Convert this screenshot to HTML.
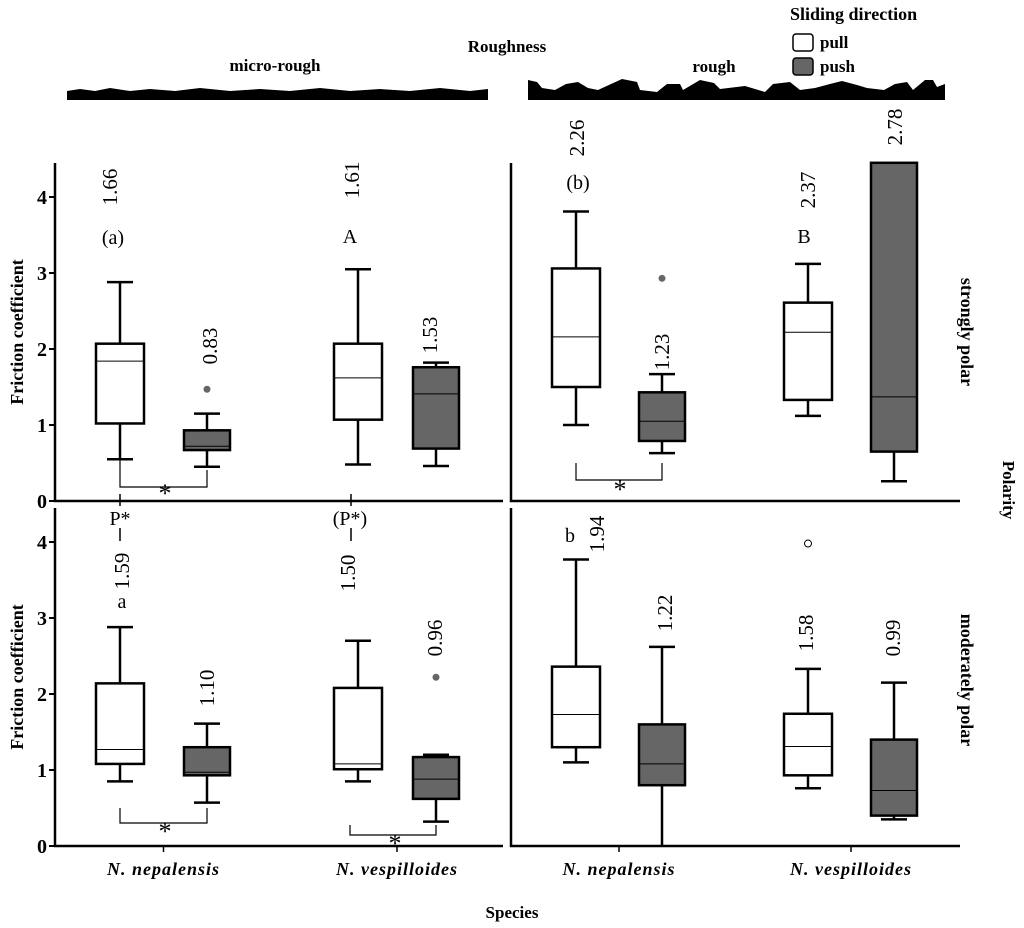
<!DOCTYPE html>
<html><head><meta charset="utf-8"><style>
body{margin:0;background:#fff}
svg{display:block;font-family:"Liberation Serif",serif}
</style></head><body>
<svg id="c" width="1024" height="928" xmlns="http://www.w3.org/2000/svg">
<g>
<text x="507" y="52" font-size="17" font-weight="bold" text-anchor="middle">Roughness</text>
<text x="275" y="71" font-size="17" font-weight="bold" text-anchor="middle">micro-rough</text>
<text x="714" y="72" font-size="17" font-weight="bold" text-anchor="middle">rough</text>
<path d="M67 91 L80 89 L95 91 L110 88 L130 91 L150 89 L175 91 L200 88 L230 91 L260 89 L290 91 L320 88 L350 91 L380 89 L410 91 L440 88 L470 91 L488 89 L488 100 L67 100 Z" fill="#000"/>
<path d="M528 100 L528 80 L537 82 L542 88 L555 90 L566 84 L578 82 L588 88 L598 90 L622 79 L637 82 L640 90 L657 92 L667 84 L680 84 L683 90 L700 80 L714 83 L720 89 L745 86 L765 92 L773 84 L790 82 L800 90 L815 88 L830 84 L842 81 L857 85 L867 88 L884 90 L895 84 L907 82 L913 90 L925 80 L933 80 L937 87 L945 84 L945 100 Z" fill="#000"/>
</g>
<g>
<text x="790" y="20" font-size="18" font-weight="bold">Sliding direction</text>
<rect x="793" y="34" width="20" height="17" rx="3" fill="#fff" stroke="#000" stroke-width="1.5"/>
<text x="820" y="48" font-size="17" font-weight="bold">pull</text>
<rect x="793" y="58" width="20" height="17" rx="3" fill="#666" stroke="#000" stroke-width="1.5"/>
<text x="820" y="72" font-size="17" font-weight="bold">push</text>
</g>
<g id="plots"></g>
<text x="512" y="918" font-size="17" font-weight="bold" text-anchor="middle">Species</text>
<text transform="translate(1003,490) rotate(90)" font-size="17" font-weight="bold" text-anchor="middle">Polarity</text>
<text transform="translate(961,332) rotate(90)" font-size="18" font-weight="bold" text-anchor="middle">strongly polar</text>
<text transform="translate(961,680) rotate(90)" font-size="18" font-weight="bold" text-anchor="middle">moderately polar</text>
</svg>
<script>
// each box: [whiskerLow, q1, median, q3, whiskerHigh]
const panels = ["micro-strong","rough-strong","micro-moderate","rough-moderate"];
const species = ["N. nepalensis","N. vespilloides"];
const boxStats = [
 [[0.55,1.02,1.84,2.07,2.88],[0.45,0.67,0.72,0.93,1.15],[0.48,1.07,1.62,2.07,3.05],[0.46,0.69,1.41,1.76,1.82]],
 [[1.00,1.50,2.16,3.06,3.81],[0.63,0.79,1.05,1.43,1.67],[1.12,1.33,2.22,2.61,3.12],[0.26,0.65,1.37,4.45,4.45]],
 [[0.85,1.08,1.27,2.14,2.88],[0.57,0.93,0.97,1.30,1.61],[0.85,1.01,1.08,2.08,2.70],[0.32,0.62,0.88,1.17,1.20]],
 [[1.10,1.30,1.73,2.36,3.77],[0.00,0.80,1.08,1.60,2.62],[0.76,0.93,1.31,1.74,2.33],[0.35,0.40,0.73,1.40,2.15]]
];
const outliers = [[null,1.47,null,null],[null,2.93,null,null],[null,null,null,2.22],[null,null,3.98,null]];
const meanLabels = [["1.66","0.83","1.61","1.53"],["2.26","1.23","2.37","2.78"],["1.59","1.10","1.50","0.96"],["1.94","1.22","1.58","0.99"]];
const yTicks = [0,1,2,3,4];

const NS="http://www.w3.org/2000/svg";
const g=document.getElementById('plots');
function el(t,a,p){const e=document.createElementNS(NS,t);for(const k in a)e.setAttribute(k,a[k]);(p||g).appendChild(e);return e;}
const geo=[
 {x0:55,x1:503,y0:501,top:163,cx:[120,207,358,436],lab:[[110,187],[210,346],[352,180],[430,335]]},
 {x0:511,x1:960,y0:501,top:163,cx:[576,662,808,894],lab:[[577,138],[662,352],[808,190],[895,127]]},
 {x0:55,x1:503,y0:846,top:508,cx:[120,207,358,436],lab:[[122,571],[207,688],[348,573],[435,638]]},
 {x0:511,x1:960,y0:846,top:508,cx:[576,662,808,894],lab:[[597,534],[665,613],[806,633],[893,638]]}
];
const U=76;
panels.forEach((pn,pi)=>{
 const G=geo[pi];
 const y=v=>G.y0-v*U;
 const pg=el('g',{});
 
 
 const ax=el('path',{d:`M${G.x0} ${G.top} V${G.y0} H${G.x1}`,fill:'none',stroke:'#000','stroke-width':2.5},pg);
 
 
 if(G.x0===55){
  yTicks.forEach(t=>{
   const tx=el('text',{x:47,y:y(t)+7,'font-size':20,'font-weight':'bold','text-anchor':'end'},pg);
   tx.textContent=t;
   
   
   el('line',{x1:49,x2:55,y1:y(t),y2:y(t),stroke:'#000','stroke-width':2},pg);
  });
  const yt=el('text',{transform:`translate(23,${(G.top+G.y0)/2}) rotate(-90)`,'font-size':18,'font-weight':'bold','text-anchor':'middle'},pg);
  yt.textContent='Friction coefficient';
  
  
 }
 if(pi>=2){
  species.forEach((s,si)=>{
   const cx=(G.cx[si*2]+G.cx[si*2+1])/2;
   el('line',{x1:cx,x2:cx,y1:G.y0,y2:G.y0+6,stroke:'#000','stroke-width':1.5},pg);
   const tx=el('text',{x:cx,y:G.y0+29,'font-size':18,'font-weight':'bold','font-style':'italic','text-anchor':'middle','letter-spacing':'1'},pg);
   tx.textContent=s;
   
   
  });
 }
 boxStats[pi].forEach((b,bi)=>{
  const cx=G.cx[bi],w=bi%2?23:24,push=bi%2===1;
  const bg=el('g',{},pg);
  
  
  const top=Math.min(b[4],4.45),q3=Math.min(b[3],4.45);
  el('line',{x1:cx,x2:cx,y1:y(b[0]),y2:y(b[1]),stroke:'#000','stroke-width':2.5},bg);
  el('line',{x1:cx,x2:cx,y1:y(q3),y2:y(top),stroke:'#000','stroke-width':2.5},bg);
  if(b[0]>0)el('line',{x1:cx-13,x2:cx+13,y1:y(b[0]),y2:y(b[0]),stroke:'#000','stroke-width':2.5},bg);
  if(b[4]<4.4)el('line',{x1:cx-13,x2:cx+13,y1:y(b[4]),y2:y(b[4]),stroke:'#000','stroke-width':2.5},bg);
  el('rect',{x:cx-w,y:y(q3),width:2*w,height:y(b[1])-y(q3),fill:push?'#666':'#fff',stroke:'#000','stroke-width':2.5},bg);
  el('line',{x1:cx-w,x2:cx+w,y1:y(b[2]),y2:y(b[2]),stroke:'#000','stroke-width':1},bg);
  const o=outliers[pi][bi];
  if(o!==null){
   const c=el('circle',{cx:cx,cy:y(o),r:3.5,fill:pi===3?'#fff':'#666',stroke:pi===3?'#000':'none','stroke-width':1},bg);
   
   
  }
  const L=G.lab[bi];
  const t=el('text',{transform:`translate(${L[0]+7},${L[1]}) rotate(-90)`,'font-size':21,'text-anchor':'middle'},pg);
  t.textContent=meanLabels[pi][bi];
  
  
 });
});
const extras=[["(a)",113,244],["A",350,243],["(b)",578,189],["B",804,243],["P*",120,525],["(P*)",350,525],["a",122,608],["b",570,542]];
extras.forEach(e=>{
 const t=el('text',{x:e[1],y:e[2],'font-size':20,'text-anchor':'middle'});
 t.textContent=e[0];
 
 
});
el('line',{x1:120,x2:120,y1:528,y2:541,stroke:'#000','stroke-width':1.5});
el('line',{x1:351,x2:351,y1:528,y2:541,stroke:'#000','stroke-width':1.5});
el('line',{x1:120,x2:120,y1:494,y2:506,stroke:'#000','stroke-width':1.5});
el('line',{x1:351,x2:351,y1:494,y2:506,stroke:'#000','stroke-width':1.5});
const brackets=[[120,207,459,487,470,165,502],[576,662,463,480,463,620,498],[120,207,808,823,808,165,840],[350,436,825,835,825,395,852]];
brackets.forEach(b=>{
 const p=el('path',{d:`M${b[0]} ${b[2]} V${b[3]} H${b[1]} V${b[4]}`,fill:'none',stroke:'#000','stroke-width':1.2});
 
 
 const t=el('text',{x:b[5],y:b[6],'font-size':26,'text-anchor':'middle'});
 t.textContent='*';
 
 
});
</script>
</body></html>
